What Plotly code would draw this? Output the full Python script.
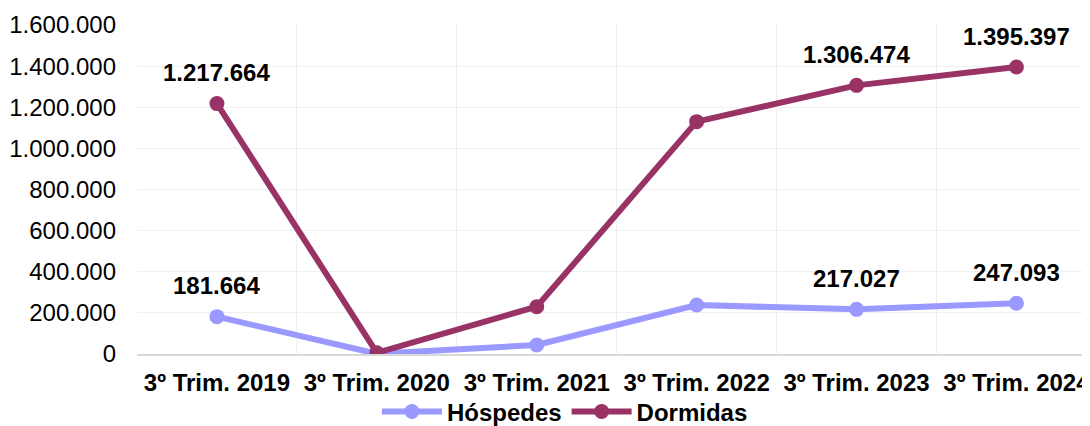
import plotly.graph_objects as go

categories = ["3º Trim. 2019", "3º Trim. 2020", "3º Trim. 2021", "3º Trim. 2022", "3º Trim. 2023", "3º Trim. 2024"]
hospedes = [181664, 1000, 44000, 238000, 217027, 247093]
dormidas = [1217664, 6000, 230000, 1130000, 1306474, 1395397]
labelled = [0, 4, 5]
y_ticks = [0, 200000, 400000, 600000, 800000, 1000000, 1200000, 1400000, 1600000]
y_ticktext = ["0", "200.000", "400.000", "600.000", "800.000", "1.000.000", "1.200.000", "1.400.000", "1.600.000"]

def fmt(v):
    return f"{v:,}".replace(",", ".")

FONT = "Liberation Sans, Arial, sans-serif"
C_H = "#9999FF"
C_D = "#993366"

fig = go.Figure()
fig.add_trace(go.Scatter(x=categories, y=hospedes, name="Hóspedes", mode="lines+markers",
                         line=dict(color=C_H, width=6), marker=dict(color=C_H, size=15)))
fig.add_trace(go.Scatter(x=categories, y=dormidas, name="Dormidas", mode="lines+markers",
                         line=dict(color=C_D, width=6), marker=dict(color=C_D, size=15)))

for series in (hospedes, dormidas):
    for i in labelled:
        fig.add_annotation(x=categories[i], y=series[i], text=f"<b>{fmt(series[i])}</b>",
                           showarrow=False, yanchor="middle", yshift=31,
                           font=dict(family=FONT, size=24, color="#000000"))

# page body has an 8px default margin: figure sized to fit the window exactly
fig.update_layout(
    width=1082, height=418,
    margin=dict(l=129, r=0, t=17, b=72, autoexpand=False),
    paper_bgcolor="white", plot_bgcolor="white",
    font=dict(family=FONT, size=24, color="#000000"),
    showlegend=True,
    legend=dict(orientation="h", x=0.449, xanchor="center", y=-0.176, yanchor="middle",
                font=dict(family=FONT, size=24, color="#000000", weight="bold"),
                itemwidth=60, bgcolor="rgba(0,0,0,0)"),
    xaxis=dict(type="category", range=[-0.5, 5.46], tickson="boundaries", showgrid=True,
               gridcolor="#f0f0f0", gridwidth=1, ticks="", showline=True, linecolor="#d9d9d9",
               linewidth=2, tickfont=dict(family=FONT, size=24, color="#000000", weight="bold"),
               ticklabelstandoff=6, zeroline=False, automargin=False),
    yaxis=dict(range=[0, 1600000], tickvals=y_ticks, ticktext=y_ticktext, showgrid=True,
               gridcolor="#f0f0f0", gridwidth=1, ticks="", zeroline=False, showline=False,
               tickfont=dict(family=FONT, size=24, color="#000000"), ticklabelstandoff=20,
               automargin=False),
)

fig.write_html("out.html")
